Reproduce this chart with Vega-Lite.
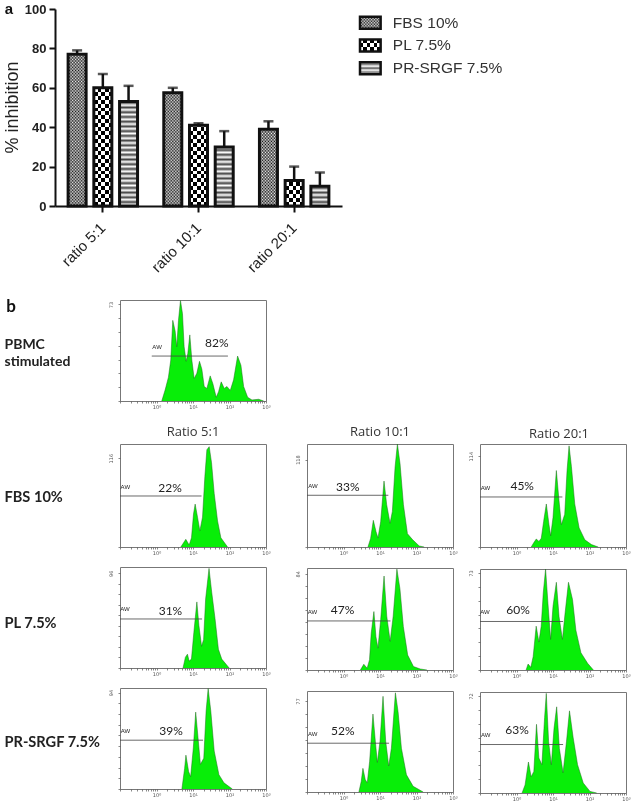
{"$schema":"https://vega.github.io/schema/vega-lite/v6.json","padding":{"left":3,"top":2,"right":0,"bottom":0},"background":"white",
"config":{"view":{"stroke":"#777","strokeWidth":1},"axis":{"domain":false,"grid":false,"labelFont":"DejaVu Sans","labelFontSize":5,"labelColor":"#555","tickColor":"#555","tickSize":2,"tickWidth":0.7,"tickCount":100,"labelPadding":1,"labelOverlap":false,"labelBound":false,"labelFlush":false},"text":{"font":"Lato","fontSize":12,"color":"#222"},"rule":{"color":"#444","strokeWidth":0.8},"area":{"color":"#08ee08","opacity":1},"title":{"font":"Open Sans","fontWeight":400,"fontSize":13,"color":"#333","offset":5}},
"datasets":{
"bars":[{"ratio":"ratio 5:1","medium":"FBS 10%","inhibition":77,"upper":79},{"ratio":"ratio 5:1","medium":"PL 7.5%","inhibition":60,"upper":67},{"ratio":"ratio 5:1","medium":"PR-SRGF 7.5%","inhibition":53,"upper":61},{"ratio":"ratio 10:1","medium":"FBS 10%","inhibition":57.5,"upper":60},{"ratio":"ratio 10:1","medium":"PL 7.5%","inhibition":41,"upper":42},{"ratio":"ratio 10:1","medium":"PR-SRGF 7.5%","inhibition":30,"upper":38},{"ratio":"ratio 20:1","medium":"FBS 10%","inhibition":39,"upper":43},{"ratio":"ratio 20:1","medium":"PL 7.5%","inhibition":13,"upper":20},{"ratio":"ratio 20:1","medium":"PR-SRGF 7.5%","inhibition":10,"upper":17}],
"gates":[{"panel":"pbmc","gate_start":-0.13,"gate_end":1.957,"gate_count":34,"pct":"82%","pct_x":1.654,"pct_y":43.6,"gate":"AW","aw_x":0.016,"aw_y":40.6},
{"panel":"fbs5","gate_start":-1,"gate_end":1.233,"gate_count":66.6,"pct":"22%","pct_x":0.373,"pct_y":77.6,"gate":"AW","aw_x":-0.854,"aw_y":79},
{"panel":"fbs10","gate_start":-1,"gate_end":1.229,"gate_count":69.8,"pct":"33%","pct_x":0.119,"pct_y":81,"gate":"AW","aw_x":-0.835,"aw_y":82},
{"panel":"fbs20","gate_start":-1,"gate_end":1.257,"gate_count":62.8,"pct":"45%","pct_x":0.156,"pct_y":76,"gate":"AW","aw_x":-0.853,"aw_y":74.6},
{"panel":"pl5","gate_start":-1,"gate_end":1.249,"gate_count":49.7,"pct":"31%","pct_x":0.382,"pct_y":58,"gate":"AW","aw_x":-0.862,"aw_y":59.5},
{"panel":"pl10","gate_start":-1,"gate_end":1.287,"gate_count":42.8,"pct":"47%","pct_x":-0.028,"pct_y":52.5,"gate":"AW","aw_x":-0.852,"aw_y":51},
{"panel":"pl20","gate_start":-1,"gate_end":1.276,"gate_count":36.5,"pct":"60%","pct_x":0.041,"pct_y":45,"gate":"AW","aw_x":-0.862,"aw_y":43.6},
{"panel":"pr5","gate_start":-1,"gate_end":1.276,"gate_count":47.6,"pct":"39%","pct_x":0.401,"pct_y":57,"gate":"AW","aw_x":-0.853,"aw_y":56.7},
{"panel":"pr10","gate_start":-1,"gate_end":1.248,"gate_count":41.3,"pct":"52%","pct_x":-0.018,"pct_y":52,"gate":"AW","aw_x":-0.844,"aw_y":49.5},
{"panel":"pr20","gate_start":-1,"gate_end":1.276,"gate_count":36,"pct":"63%","pct_x":0.014,"pct_y":47,"gate":"AW","aw_x":-0.843,"aw_y":43}],
"pbmc":[{"fl":0.144,"events":0},{"fl":0.236,"events":8.3},{"fl":0.327,"events":18},{"fl":0.391,"events":31},{"fl":0.446,"events":61},{"fl":0.51,"events":53},{"fl":0.556,"events":41},{"fl":0.602,"events":61},{"fl":0.657,"events":76},{"fl":0.712,"events":66},{"fl":0.757,"events":41},{"fl":0.812,"events":30},{"fl":0.858,"events":36},{"fl":0.913,"events":50},{"fl":0.968,"events":31},{"fl":1.032,"events":17},{"fl":1.105,"events":21},{"fl":1.178,"events":30},{"fl":1.243,"events":24},{"fl":1.307,"events":11},{"fl":1.38,"events":9.5},{"fl":1.471,"events":19},{"fl":1.545,"events":13},{"fl":1.636,"events":2.8},{"fl":1.7,"events":7},{"fl":1.773,"events":14.5},{"fl":1.856,"events":9.5},{"fl":1.929,"events":11},{"fl":2.021,"events":8},{"fl":2.112,"events":16},{"fl":2.222,"events":34},{"fl":2.313,"events":27},{"fl":2.387,"events":11},{"fl":2.497,"events":2.8},{"fl":2.616,"events":0.8},{"fl":2.799,"events":1.3},{"fl":2.936,"events":0}],
"fbs5":[{"fl":0.666,"events":0},{"fl":0.803,"events":10},{"fl":0.895,"events":2.6},{"fl":0.959,"events":12},{"fl":1.014,"events":43},{"fl":1.059,"events":56},{"fl":1.124,"events":39},{"fl":1.188,"events":21},{"fl":1.261,"events":39},{"fl":1.325,"events":92},{"fl":1.38,"events":127},{"fl":1.444,"events":131},{"fl":1.508,"events":110},{"fl":1.581,"events":70},{"fl":1.673,"events":34},{"fl":1.764,"events":12},{"fl":1.947,"events":0}],
"fbs10":[{"fl":0.67,"events":0},{"fl":0.743,"events":11.5},{"fl":0.817,"events":36},{"fl":0.89,"events":21},{"fl":0.945,"events":12},{"fl":1.018,"events":34},{"fl":1.11,"events":89},{"fl":1.183,"events":57},{"fl":1.275,"events":32},{"fl":1.339,"events":48},{"fl":1.413,"events":108},{"fl":1.477,"events":139},{"fl":1.55,"events":112},{"fl":1.642,"events":57},{"fl":1.752,"events":18},{"fl":1.89,"events":10},{"fl":2.073,"events":1.4},{"fl":2.211,"events":0}],
"fbs20":[{"fl":0.404,"events":0},{"fl":0.468,"events":5},{"fl":0.541,"events":10},{"fl":0.615,"events":7},{"fl":0.679,"events":11},{"fl":0.743,"events":32},{"fl":0.817,"events":54},{"fl":0.89,"events":28},{"fl":0.936,"events":14},{"fl":1,"events":37},{"fl":1.092,"events":96},{"fl":1.165,"events":58},{"fl":1.229,"events":28},{"fl":1.321,"events":41},{"fl":1.385,"events":96},{"fl":1.44,"events":127},{"fl":1.505,"events":101},{"fl":1.596,"events":54},{"fl":1.716,"events":24},{"fl":1.872,"events":9},{"fl":2.055,"events":3},{"fl":2.239,"events":0}],
"pl5":[{"fl":0.727,"events":0},{"fl":0.792,"events":11},{"fl":0.848,"events":14},{"fl":0.894,"events":7},{"fl":0.958,"events":9},{"fl":1.023,"events":36},{"fl":1.106,"events":67},{"fl":1.162,"events":43},{"fl":1.235,"events":22},{"fl":1.291,"events":29},{"fl":1.346,"events":70},{"fl":1.439,"events":101},{"fl":1.512,"events":77},{"fl":1.604,"events":50},{"fl":1.696,"events":19},{"fl":1.788,"events":9},{"fl":1.991,"events":0}],
"pl10":[{"fl":0.463,"events":0},{"fl":0.556,"events":5},{"fl":0.648,"events":1.5},{"fl":0.713,"events":9},{"fl":0.759,"events":32},{"fl":0.833,"events":51},{"fl":0.889,"events":29},{"fl":0.944,"events":19},{"fl":1.019,"events":44},{"fl":1.111,"events":82},{"fl":1.185,"events":47},{"fl":1.278,"events":25},{"fl":1.361,"events":47},{"fl":1.463,"events":88},{"fl":1.546,"events":71},{"fl":1.639,"events":38},{"fl":1.759,"events":13},{"fl":1.917,"events":3},{"fl":2.102,"events":0.9},{"fl":2.287,"events":0}],
"pl20":[{"fl":0.263,"events":0},{"fl":0.318,"events":4.5},{"fl":0.392,"events":2},{"fl":0.456,"events":10},{"fl":0.539,"events":33},{"fl":0.613,"events":21},{"fl":0.677,"events":33},{"fl":0.733,"events":58},{"fl":0.797,"events":76},{"fl":0.862,"events":50},{"fl":0.935,"events":23},{"fl":1,"events":48},{"fl":1.092,"events":66},{"fl":1.166,"events":40},{"fl":1.258,"events":23},{"fl":1.332,"events":43},{"fl":1.424,"events":66},{"fl":1.535,"events":53},{"fl":1.627,"events":30},{"fl":1.765,"events":13},{"fl":1.949,"events":5},{"fl":2.106,"events":0}],
"pr5":[{"fl":0.696,"events":0},{"fl":0.77,"events":20},{"fl":0.806,"events":33},{"fl":0.88,"events":17},{"fl":0.935,"events":12},{"fl":1.009,"events":40},{"fl":1.074,"events":75},{"fl":1.138,"events":50},{"fl":1.203,"events":24},{"fl":1.295,"events":30},{"fl":1.359,"events":76},{"fl":1.415,"events":98},{"fl":1.488,"events":76},{"fl":1.581,"events":37},{"fl":1.71,"events":14},{"fl":1.848,"events":6},{"fl":2.078,"events":0}],
"pr10":[{"fl":0.422,"events":0},{"fl":0.486,"events":9},{"fl":0.532,"events":20},{"fl":0.596,"events":10.5},{"fl":0.651,"events":7.7},{"fl":0.716,"events":26},{"fl":0.807,"events":66},{"fl":0.872,"events":43},{"fl":0.927,"events":25},{"fl":1,"events":43},{"fl":1.083,"events":81},{"fl":1.156,"events":43},{"fl":1.239,"events":22},{"fl":1.312,"events":37},{"fl":1.422,"events":84},{"fl":1.495,"events":68},{"fl":1.587,"events":37},{"fl":1.725,"events":14.5},{"fl":1.908,"events":4.8},{"fl":2.183,"events":0}],
"pr20":[{"fl":0.152,"events":0},{"fl":0.235,"events":6},{"fl":0.327,"events":23},{"fl":0.401,"events":12},{"fl":0.475,"events":16},{"fl":0.548,"events":51},{"fl":0.613,"events":26},{"fl":0.696,"events":21},{"fl":0.77,"events":56},{"fl":0.816,"events":74},{"fl":0.88,"events":38},{"fl":0.954,"events":21},{"fl":1.028,"events":48},{"fl":1.101,"events":64},{"fl":1.175,"events":33},{"fl":1.276,"events":15},{"fl":1.369,"events":38},{"fl":1.452,"events":61},{"fl":1.553,"events":41},{"fl":1.673,"events":21},{"fl":1.829,"events":7.4},{"fl":2.014,"events":1.2},{"fl":2.198,"events":0}]
},
"spacing":22,
"vconcat":[
{"spacing":18,"bounds":"flush","hconcat":[
{"width":222,"height":197,"view":{"stroke":null},"data":{"name":"bars"},
"encoding":{"x":{"field":"ratio","type":"nominal","sort":null,"scale":{"domain":["ratio 5:1","ratio 10:1","ratio 20:1"],"range":[-65,222],"paddingInner":0,"paddingOuter":0},"axis":{"title":null,"domain":true,"domainColor":"#111","domainWidth":2,"tickColor":"#111","tickWidth":2,"tickSize":6,"labelAngle":-45,"labelAlign":"right","labelBaseline":"middle","labelFont":"Liberation Sans","labelFontSize":15,"labelColor":"#222","labelPadding":13}},"xOffset":{"field":"medium","type":"nominal","scale":{"domain":["FBS 10%","PL 7.5%","PR-SRGF 7.5%"],"paddingInner":0.3,"paddingOuter":0.51}}},
"layer":[
{"mark":{"type":"bar","fill":"white"},"encoding":{"y":{"datum":0,"type":"quantitative","scale":{"domain":[0,100],"nice":false},"axis":{"title":"% inhibition","offset":65,"titleFont":"Liberation Sans","titleFontSize":18,"titleFontWeight":400,"titleColor":"#222","titleX":-34,"titleY":98,"values":[0,20,40,60,80,100],"tickCount":6,"labelOverlap":false,"domain":true,"domainColor":"#111","domainWidth":2,"tickColor":"#111","tickWidth":2,"tickSize":6,"labelFont":"Liberation Sans","labelFontSize":13,"labelFontWeight":700,"labelColor":"#222","labelPadding":3}},"y2":{"datum":80}}},
{"transform":[{"filter":"datum.medium=='FBS 10%'"}],"mark":{"type":"bar","blend":"difference","fill":{"gradient":"linear","x1":0,"y1":0,"x2":1,"y2":0,"stops":[{"offset":0,"color":"#fff0"},{"offset":0.083,"color":"#fff"},{"offset":0.167,"color":"#fff0"},{"offset":0.25,"color":"#fff"},{"offset":0.333,"color":"#fff0"},{"offset":0.417,"color":"#fff"},{"offset":0.5,"color":"#fff0"},{"offset":0.583,"color":"#fff"},{"offset":0.667,"color":"#fff0"},{"offset":0.75,"color":"#fff"},{"offset":0.833,"color":"#fff0"},{"offset":0.917,"color":"#fff"},{"offset":1,"color":"#fff0"}]}},"encoding":{"y":{"datum":0,"type":"quantitative"},"y2":{"datum":80}}},
{"transform":[{"filter":"datum.medium=='FBS 10%'"}],"mark":{"type":"bar","blend":"difference","fill":{"gradient":"linear","x1":0,"y1":0,"x2":0,"y2":1,"stops":[{"offset":0,"color":"#fff0"},{"offset":0.01,"color":"#fff"},{"offset":0.02,"color":"#fff0"},{"offset":0.03,"color":"#fff"},{"offset":0.04,"color":"#fff0"},{"offset":0.05,"color":"#fff"},{"offset":0.06,"color":"#fff0"},{"offset":0.07,"color":"#fff"},{"offset":0.08,"color":"#fff0"},{"offset":0.09,"color":"#fff"},{"offset":0.1,"color":"#fff0"},{"offset":0.11,"color":"#fff"},{"offset":0.12,"color":"#fff0"},{"offset":0.13,"color":"#fff"},{"offset":0.14,"color":"#fff0"},{"offset":0.15,"color":"#fff"},{"offset":0.16,"color":"#fff0"},{"offset":0.17,"color":"#fff"},{"offset":0.18,"color":"#fff0"},{"offset":0.19,"color":"#fff"},{"offset":0.2,"color":"#fff0"},{"offset":0.21,"color":"#fff"},{"offset":0.22,"color":"#fff0"},{"offset":0.23,"color":"#fff"},{"offset":0.24,"color":"#fff0"},{"offset":0.25,"color":"#fff"},{"offset":0.26,"color":"#fff0"},{"offset":0.27,"color":"#fff"},{"offset":0.28,"color":"#fff0"},{"offset":0.29,"color":"#fff"},{"offset":0.3,"color":"#fff0"},{"offset":0.31,"color":"#fff"},{"offset":0.32,"color":"#fff0"},{"offset":0.33,"color":"#fff"},{"offset":0.34,"color":"#fff0"},{"offset":0.35,"color":"#fff"},{"offset":0.36,"color":"#fff0"},{"offset":0.37,"color":"#fff"},{"offset":0.38,"color":"#fff0"},{"offset":0.39,"color":"#fff"},{"offset":0.4,"color":"#fff0"},{"offset":0.41,"color":"#fff"},{"offset":0.42,"color":"#fff0"},{"offset":0.43,"color":"#fff"},{"offset":0.44,"color":"#fff0"},{"offset":0.45,"color":"#fff"},{"offset":0.46,"color":"#fff0"},{"offset":0.47,"color":"#fff"},{"offset":0.48,"color":"#fff0"},{"offset":0.49,"color":"#fff"},{"offset":0.5,"color":"#fff0"},{"offset":0.51,"color":"#fff"},{"offset":0.52,"color":"#fff0"},{"offset":0.53,"color":"#fff"},{"offset":0.54,"color":"#fff0"},{"offset":0.55,"color":"#fff"},{"offset":0.56,"color":"#fff0"},{"offset":0.57,"color":"#fff"},{"offset":0.58,"color":"#fff0"},{"offset":0.59,"color":"#fff"},{"offset":0.6,"color":"#fff0"},{"offset":0.61,"color":"#fff"},{"offset":0.62,"color":"#fff0"},{"offset":0.63,"color":"#fff"},{"offset":0.64,"color":"#fff0"},{"offset":0.65,"color":"#fff"},{"offset":0.66,"color":"#fff0"},{"offset":0.67,"color":"#fff"},{"offset":0.68,"color":"#fff0"},{"offset":0.69,"color":"#fff"},{"offset":0.7,"color":"#fff0"},{"offset":0.71,"color":"#fff"},{"offset":0.72,"color":"#fff0"},{"offset":0.73,"color":"#fff"},{"offset":0.74,"color":"#fff0"},{"offset":0.75,"color":"#fff"},{"offset":0.76,"color":"#fff0"},{"offset":0.77,"color":"#fff"},{"offset":0.78,"color":"#fff0"},{"offset":0.79,"color":"#fff"},{"offset":0.8,"color":"#fff0"},{"offset":0.81,"color":"#fff"},{"offset":0.82,"color":"#fff0"},{"offset":0.83,"color":"#fff"},{"offset":0.84,"color":"#fff0"},{"offset":0.85,"color":"#fff"},{"offset":0.86,"color":"#fff0"},{"offset":0.87,"color":"#fff"},{"offset":0.88,"color":"#fff0"},{"offset":0.89,"color":"#fff"},{"offset":0.9,"color":"#fff0"},{"offset":0.91,"color":"#fff"},{"offset":0.92,"color":"#fff0"},{"offset":0.93,"color":"#fff"},{"offset":0.94,"color":"#fff0"},{"offset":0.95,"color":"#fff"},{"offset":0.96,"color":"#fff0"},{"offset":0.97,"color":"#fff"},{"offset":0.98,"color":"#fff0"},{"offset":0.99,"color":"#fff"},{"offset":1,"color":"#fff0"}]}},"encoding":{"y":{"datum":0,"type":"quantitative"},"y2":{"datum":80}}},
{"transform":[{"filter":"datum.medium=='PL 7.5%'"}],"mark":{"type":"bar","blend":"difference","fill":{"gradient":"linear","x1":0,"y1":0,"x2":1,"y2":0,"stops":[{"offset":0,"color":"#fff"},{"offset":0.208,"color":"#fff"},{"offset":0.208,"color":"#fff0"},{"offset":0.417,"color":"#fff0"},{"offset":0.417,"color":"#fff"},{"offset":0.625,"color":"#fff"},{"offset":0.625,"color":"#fff0"},{"offset":0.833,"color":"#fff0"},{"offset":0.833,"color":"#fff"},{"offset":1,"color":"#fff"}]}},"encoding":{"y":{"datum":0,"type":"quantitative"},"y2":{"datum":80}}},
{"transform":[{"filter":"datum.medium=='PL 7.5%'"}],"mark":{"type":"bar","blend":"difference","fill":{"gradient":"linear","x1":0,"y1":0,"x2":0,"y2":1,"stops":[{"offset":0,"color":"#fff"},{"offset":0.025,"color":"#fff"},{"offset":0.025,"color":"#fff0"},{"offset":0.05,"color":"#fff0"},{"offset":0.05,"color":"#fff"},{"offset":0.075,"color":"#fff"},{"offset":0.075,"color":"#fff0"},{"offset":0.1,"color":"#fff0"},{"offset":0.1,"color":"#fff"},{"offset":0.125,"color":"#fff"},{"offset":0.125,"color":"#fff0"},{"offset":0.15,"color":"#fff0"},{"offset":0.15,"color":"#fff"},{"offset":0.175,"color":"#fff"},{"offset":0.175,"color":"#fff0"},{"offset":0.2,"color":"#fff0"},{"offset":0.2,"color":"#fff"},{"offset":0.225,"color":"#fff"},{"offset":0.225,"color":"#fff0"},{"offset":0.25,"color":"#fff0"},{"offset":0.25,"color":"#fff"},{"offset":0.275,"color":"#fff"},{"offset":0.275,"color":"#fff0"},{"offset":0.3,"color":"#fff0"},{"offset":0.3,"color":"#fff"},{"offset":0.325,"color":"#fff"},{"offset":0.325,"color":"#fff0"},{"offset":0.35,"color":"#fff0"},{"offset":0.35,"color":"#fff"},{"offset":0.375,"color":"#fff"},{"offset":0.375,"color":"#fff0"},{"offset":0.4,"color":"#fff0"},{"offset":0.4,"color":"#fff"},{"offset":0.425,"color":"#fff"},{"offset":0.425,"color":"#fff0"},{"offset":0.45,"color":"#fff0"},{"offset":0.45,"color":"#fff"},{"offset":0.475,"color":"#fff"},{"offset":0.475,"color":"#fff0"},{"offset":0.5,"color":"#fff0"},{"offset":0.5,"color":"#fff"},{"offset":0.525,"color":"#fff"},{"offset":0.525,"color":"#fff0"},{"offset":0.55,"color":"#fff0"},{"offset":0.55,"color":"#fff"},{"offset":0.575,"color":"#fff"},{"offset":0.575,"color":"#fff0"},{"offset":0.6,"color":"#fff0"},{"offset":0.6,"color":"#fff"},{"offset":0.625,"color":"#fff"},{"offset":0.625,"color":"#fff0"},{"offset":0.65,"color":"#fff0"},{"offset":0.65,"color":"#fff"},{"offset":0.675,"color":"#fff"},{"offset":0.675,"color":"#fff0"},{"offset":0.7,"color":"#fff0"},{"offset":0.7,"color":"#fff"},{"offset":0.725,"color":"#fff"},{"offset":0.725,"color":"#fff0"},{"offset":0.75,"color":"#fff0"},{"offset":0.75,"color":"#fff"},{"offset":0.775,"color":"#fff"},{"offset":0.775,"color":"#fff0"},{"offset":0.8,"color":"#fff0"},{"offset":0.8,"color":"#fff"},{"offset":0.825,"color":"#fff"},{"offset":0.825,"color":"#fff0"},{"offset":0.85,"color":"#fff0"},{"offset":0.85,"color":"#fff"},{"offset":0.875,"color":"#fff"},{"offset":0.875,"color":"#fff0"},{"offset":0.9,"color":"#fff0"},{"offset":0.9,"color":"#fff"},{"offset":0.925,"color":"#fff"},{"offset":0.925,"color":"#fff0"},{"offset":0.95,"color":"#fff0"},{"offset":0.95,"color":"#fff"},{"offset":0.975,"color":"#fff"},{"offset":0.975,"color":"#fff0"},{"offset":1,"color":"#fff0"}]}},"encoding":{"y":{"datum":0,"type":"quantitative"},"y2":{"datum":80}}},
{"transform":[{"filter":"datum.medium=='PR-SRGF 7.5%'"}],"mark":{"type":"bar","fill":{"gradient":"linear","x1":0,"y1":0,"x2":0,"y2":1,"stops":[{"offset":0,"color":"#fff"},{"offset":0.015,"color":"#444"},{"offset":0.03,"color":"#fff"},{"offset":0.045,"color":"#444"},{"offset":0.06,"color":"#fff"},{"offset":0.075,"color":"#444"},{"offset":0.09,"color":"#fff"},{"offset":0.105,"color":"#444"},{"offset":0.12,"color":"#fff"},{"offset":0.135,"color":"#444"},{"offset":0.15,"color":"#fff"},{"offset":0.165,"color":"#444"},{"offset":0.18,"color":"#fff"},{"offset":0.195,"color":"#444"},{"offset":0.21,"color":"#fff"},{"offset":0.225,"color":"#444"},{"offset":0.24,"color":"#fff"},{"offset":0.255,"color":"#444"},{"offset":0.27,"color":"#fff"},{"offset":0.285,"color":"#444"},{"offset":0.3,"color":"#fff"},{"offset":0.315,"color":"#444"},{"offset":0.33,"color":"#fff"},{"offset":0.345,"color":"#444"},{"offset":0.36,"color":"#fff"},{"offset":0.375,"color":"#444"},{"offset":0.39,"color":"#fff"},{"offset":0.405,"color":"#444"},{"offset":0.42,"color":"#fff"},{"offset":0.435,"color":"#444"},{"offset":0.45,"color":"#fff"},{"offset":0.465,"color":"#444"},{"offset":0.48,"color":"#fff"},{"offset":0.495,"color":"#444"},{"offset":0.51,"color":"#fff"},{"offset":0.525,"color":"#444"},{"offset":0.54,"color":"#fff"},{"offset":0.555,"color":"#444"},{"offset":0.57,"color":"#fff"},{"offset":0.585,"color":"#444"},{"offset":0.6,"color":"#fff"},{"offset":0.615,"color":"#444"},{"offset":0.63,"color":"#fff"},{"offset":0.645,"color":"#444"},{"offset":0.66,"color":"#fff"},{"offset":0.675,"color":"#444"},{"offset":0.69,"color":"#fff"},{"offset":0.705,"color":"#444"},{"offset":0.72,"color":"#fff"},{"offset":0.735,"color":"#444"},{"offset":0.75,"color":"#fff"},{"offset":0.765,"color":"#444"},{"offset":0.78,"color":"#fff"},{"offset":0.795,"color":"#444"},{"offset":0.81,"color":"#fff"},{"offset":0.825,"color":"#444"},{"offset":0.84,"color":"#fff"},{"offset":0.855,"color":"#444"},{"offset":0.87,"color":"#fff"},{"offset":0.885,"color":"#444"},{"offset":0.9,"color":"#fff"},{"offset":0.915,"color":"#444"},{"offset":0.93,"color":"#fff"},{"offset":0.945,"color":"#444"},{"offset":0.96,"color":"#fff"},{"offset":0.975,"color":"#444"},{"offset":0.99,"color":"#fff"}]}},"encoding":{"y":{"datum":0,"type":"quantitative"},"y2":{"datum":80}}},
{"mark":{"type":"bar","fill":"white","stroke":"white","strokeWidth":2},"encoding":{"y":{"field":"inhibition","type":"quantitative"},"y2":{"datum":80}}},
{"mark":{"type":"bar","fill":null,"fillOpacity":0,"stroke":"#111","strokeWidth":3},"encoding":{"y":{"field":"inhibition","type":"quantitative"},"y2":{"datum":0}}},
{"mark":{"type":"rule","color":"#111","strokeWidth":2.5},"encoding":{"y":{"field":"inhibition","type":"quantitative"},"y2":{"field":"upper"}}},
{"mark":{"type":"tick","color":"#111","thickness":2.5,"size":10,"orient":"horizontal"},"encoding":{"y":{"field":"upper","type":"quantitative"}}},
{"transform":[{"filter":"datum.ratio=='ratio 5:1'&&datum.medium=='PL 7.5%'"}],"mark":{"type":"text","dx":-94,"font":"Liberation Sans","fontWeight":700,"fontSize":15,"color":"#111"},"encoding":{"y":{"datum":100,"type":"quantitative"},"text":{"value":"a"}}}
]},
{"width":150,"height":72,"view":{"stroke":null},"data":{"name":"bars"},"transform":[{"filter":"datum.ratio=='ratio 5:1'"}],
"encoding":{"y":{"field":"medium","type":"nominal","scale":{"domain":["FBS 10%","PL 7.5%","PR-SRGF 7.5%"],"range":[2.4,70.5],"paddingInner":0.47,"paddingOuter":0.235},"axis":null}},
"layer":[
{"mark":{"type":"rect","fill":"white"},"encoding":{"x":{"datum":0,"type":"quantitative","scale":{"domain":[0,150]},"axis":null},"x2":{"datum":22}}},
{"transform":[{"filter":"datum.medium=='FBS 10%'"}],"mark":{"type":"rect","blend":"difference","fill":{"gradient":"linear","x1":0,"y1":0,"x2":1,"y2":0,"stops":[{"offset":0,"color":"#fff0"},{"offset":0.07,"color":"#fff"},{"offset":0.14,"color":"#fff0"},{"offset":0.21,"color":"#fff"},{"offset":0.28,"color":"#fff0"},{"offset":0.35,"color":"#fff"},{"offset":0.42,"color":"#fff0"},{"offset":0.49,"color":"#fff"},{"offset":0.56,"color":"#fff0"},{"offset":0.63,"color":"#fff"},{"offset":0.7,"color":"#fff0"},{"offset":0.77,"color":"#fff"},{"offset":0.84,"color":"#fff0"},{"offset":0.91,"color":"#fff"},{"offset":0.98,"color":"#fff0"}]}},"encoding":{"x":{"datum":0,"type":"quantitative"},"x2":{"datum":22}}},
{"transform":[{"filter":"datum.medium=='FBS 10%'"}],"mark":{"type":"rect","blend":"difference","fill":{"gradient":"linear","x1":0,"y1":0,"x2":0,"y2":1,"stops":[{"offset":0,"color":"#fff0"},{"offset":0.125,"color":"#fff"},{"offset":0.25,"color":"#fff0"},{"offset":0.375,"color":"#fff"},{"offset":0.5,"color":"#fff0"},{"offset":0.625,"color":"#fff"},{"offset":0.75,"color":"#fff0"},{"offset":0.875,"color":"#fff"},{"offset":1,"color":"#fff0"}]}},"encoding":{"x":{"datum":0,"type":"quantitative"},"x2":{"datum":22}}},
{"transform":[{"filter":"datum.medium=='PL 7.5%'"}],"mark":{"type":"rect","blend":"difference","fill":{"gradient":"linear","x1":0,"y1":0,"x2":1,"y2":0,"stops":[{"offset":0,"color":"#fff"},{"offset":0.167,"color":"#fff"},{"offset":0.167,"color":"#fff0"},{"offset":0.333,"color":"#fff0"},{"offset":0.333,"color":"#fff"},{"offset":0.5,"color":"#fff"},{"offset":0.5,"color":"#fff0"},{"offset":0.667,"color":"#fff0"},{"offset":0.667,"color":"#fff"},{"offset":0.833,"color":"#fff"},{"offset":0.833,"color":"#fff0"},{"offset":1,"color":"#fff0"}]}},"encoding":{"x":{"datum":0,"type":"quantitative"},"x2":{"datum":22}}},
{"transform":[{"filter":"datum.medium=='PL 7.5%'"}],"mark":{"type":"rect","blend":"difference","fill":{"gradient":"linear","x1":0,"y1":0,"x2":0,"y2":1,"stops":[{"offset":0,"color":"#fff"},{"offset":0.33,"color":"#fff"},{"offset":0.33,"color":"#fff0"},{"offset":0.67,"color":"#fff0"},{"offset":0.67,"color":"#fff"},{"offset":1,"color":"#fff"}]}},"encoding":{"x":{"datum":0,"type":"quantitative"},"x2":{"datum":22}}},
{"transform":[{"filter":"datum.medium=='PR-SRGF 7.5%'"}],"mark":{"type":"rect","fill":{"gradient":"linear","x1":0,"y1":0,"x2":0,"y2":1,"stops":[{"offset":0,"color":"#fff"},{"offset":0.17,"color":"#777"},{"offset":0.34,"color":"#fff"},{"offset":0.5,"color":"#555"},{"offset":0.66,"color":"#fff"},{"offset":0.83,"color":"#777"},{"offset":1,"color":"#fff"}]}},"encoding":{"x":{"datum":0,"type":"quantitative"},"x2":{"datum":22}}},
{"mark":{"type":"rect","fillOpacity":0,"stroke":"#111","strokeWidth":2.5},"encoding":{"x":{"datum":0,"type":"quantitative"},"x2":{"datum":22}}},
{"mark":{"type":"text","font":"Liberation Sans","fontSize":15.5,"align":"left","color":"#333"},"encoding":{"x":{"datum":35,"type":"quantitative"},"text":{"field":"medium"}}}
]}
]},
{"spacing":15,"vconcat":[
{"width":146,"height":101,"layer":[{"data":{"name":"pbmc"},"mark":{"type":"area","opacity":1,"line":{"color":"#1f6a1f","strokeWidth":0.5}},"encoding":{"x":{"field":"fl","type":"quantitative","scale":{"domain":[-1,3],"nice":false,"zero":false},"axis":{"title":null,"values":[-1,-0.699,-0.523,-0.398,-0.301,-0.222,-0.155,-0.097,-0.046,0,0.301,0.477,0.602,0.699,0.778,0.845,0.903,0.954,1,1.301,1.477,1.602,1.699,1.778,1.845,1.903,1.954,2,2.301,2.477,2.602,2.699,2.778,2.845,2.903,2.954,3],"labelExpr":"datum.value==0?'10⁰':datum.value==1?'10¹':datum.value==2?'10²':datum.value==3?'10³':''"}},"y":{"field":"events","type":"quantitative","scale":{"domain":[0,76.4],"nice":false},"axis":{"title":["PBMC","stimulated"],"titleAngle":0,"titleAlign":"left","titleBaseline":"middle","titleX":-116,"titleY":44,"titleFont":"Lato","titleFontSize":14,"titleFontWeight":700,"titleColor":"#222","titleLineHeight":17,"values":[0,10.4,20.9,31.3,41.7,52.1,62.6,73],"labelAngle":270,"labelAlign":"center","labelBaseline":"bottom","labelPadding":5,"labelExpr":"datum.value==73?'73':''"}}}},
{"data":{"name":"gates"},"transform":[{"filter":"datum.panel=='pbmc'"}],"layer":[{"mark":"rule","encoding":{"x":{"field":"gate_start","type":"quantitative"},"x2":{"field":"gate_end"},"y":{"field":"gate_count","type":"quantitative"}}},{"mark":"text","encoding":{"x":{"field":"pct_x","type":"quantitative"},"y":{"field":"pct_y","type":"quantitative"},"text":{"field":"pct"}}},{"mark":{"type":"text","fontSize":6,"font":"Liberation Sans"},"encoding":{"x":{"field":"aw_x","type":"quantitative"},"y":{"field":"aw_y","type":"quantitative"},"text":{"field":"gate"}}},{"mark":{"type":"text","dx":-109,"dy":7,"font":"Lato","fontWeight":700,"fontSize":17,"color":"#111"},"encoding":{"x":{"datum":-1,"type":"quantitative"},"y":{"datum":76.4,"type":"quantitative"},"text":{"value":"b"}}}]}]},
{"spacing":9,"hconcat":[
{"spacing":23,"hconcat":[
{"spacing":20,"bounds":"flush","vconcat":[
{"width":146,"height":103,"title":{"text":"Ratio 5:1"},"layer":[{"data":{"name":"fbs5"},"mark":{"type":"area","opacity":1,"line":{"color":"#1f6a1f","strokeWidth":0.5}},"encoding":{"x":{"field":"fl","type":"quantitative","scale":{"domain":[-1,3],"nice":false,"zero":false},"axis":{"title":null,"values":[-1,-0.699,-0.523,-0.398,-0.301,-0.222,-0.155,-0.097,-0.046,0,0.301,0.477,0.602,0.699,0.778,0.845,0.903,0.954,1,1.301,1.477,1.602,1.699,1.778,1.845,1.903,1.954,2,2.301,2.477,2.602,2.699,2.778,2.845,2.903,2.954,3],"labelExpr":"datum.value==0?'10⁰':datum.value==1?'10¹':datum.value==2?'10²':datum.value==3?'10³':''"}},"y":{"field":"events","type":"quantitative","scale":{"domain":[0,134.5],"nice":false},"axis":{"title":"FBS 10%","titleAngle":0,"titleAlign":"left","titleBaseline":"middle","titleX":-116,"titleY":53,"titleFont":"Lato","titleFontSize":14.6,"titleFontWeight":700,"titleColor":"#222","values":[0,116],"labelAngle":270,"labelAlign":"center","labelBaseline":"bottom","labelPadding":5,"labelExpr":"datum.value==116?'116':''"}}}},
{"data":{"name":"gates"},"transform":[{"filter":"datum.panel=='fbs5'"}],"layer":[{"mark":"rule","encoding":{"x":{"field":"gate_start","type":"quantitative"},"x2":{"field":"gate_end"},"y":{"field":"gate_count","type":"quantitative"}}},{"mark":"text","encoding":{"x":{"field":"pct_x","type":"quantitative"},"y":{"field":"pct_y","type":"quantitative"},"text":{"field":"pct"}}},{"mark":{"type":"text","fontSize":6,"font":"Liberation Sans"},"encoding":{"x":{"field":"aw_x","type":"quantitative"},"y":{"field":"aw_y","type":"quantitative"},"text":{"field":"gate"}}}]}]},
{"width":146,"height":101,"layer":[{"data":{"name":"pl5"},"mark":{"type":"area","opacity":1,"line":{"color":"#1f6a1f","strokeWidth":0.5}},"encoding":{"x":{"field":"fl","type":"quantitative","scale":{"domain":[-1,3],"nice":false,"zero":false},"axis":{"title":null,"values":[-1,-0.699,-0.523,-0.398,-0.301,-0.222,-0.155,-0.097,-0.046,0,0.301,0.477,0.602,0.699,0.778,0.845,0.903,0.954,1,1.301,1.477,1.602,1.699,1.778,1.845,1.903,1.954,2,2.301,2.477,2.602,2.699,2.778,2.845,2.903,2.954,3],"labelExpr":"datum.value==0?'10⁰':datum.value==1?'10¹':datum.value==2?'10²':datum.value==3?'10³':''"}},"y":{"field":"events","type":"quantitative","scale":{"domain":[0,102.4],"nice":false},"axis":{"title":"PL 7.5%","titleAngle":0,"titleAlign":"left","titleBaseline":"middle","titleX":-116,"titleY":56,"titleFont":"Lato","titleFontSize":14.6,"titleFontWeight":700,"titleColor":"#222","values":[0,10.7,21.3,32,42.7,53.3,64,74.7,85.3,96],"labelAngle":270,"labelAlign":"center","labelBaseline":"bottom","labelPadding":5,"labelExpr":"datum.value==96?'96':''"}}}},
{"data":{"name":"gates"},"transform":[{"filter":"datum.panel=='pl5'"}],"layer":[{"mark":"rule","encoding":{"x":{"field":"gate_start","type":"quantitative"},"x2":{"field":"gate_end"},"y":{"field":"gate_count","type":"quantitative"}}},{"mark":"text","encoding":{"x":{"field":"pct_x","type":"quantitative"},"y":{"field":"pct_y","type":"quantitative"},"text":{"field":"pct"}}},{"mark":{"type":"text","fontSize":6,"font":"Liberation Sans"},"encoding":{"x":{"field":"aw_x","type":"quantitative"},"y":{"field":"aw_y","type":"quantitative"},"text":{"field":"gate"}}}]}]},
{"width":146,"height":101,"layer":[{"data":{"name":"pr5"},"mark":{"type":"area","opacity":1,"line":{"color":"#1f6a1f","strokeWidth":0.5}},"encoding":{"x":{"field":"fl","type":"quantitative","scale":{"domain":[-1,3],"nice":false,"zero":false},"axis":{"title":null,"values":[-1,-0.699,-0.523,-0.398,-0.301,-0.222,-0.155,-0.097,-0.046,0,0.301,0.477,0.602,0.699,0.778,0.845,0.903,0.954,1,1.301,1.477,1.602,1.699,1.778,1.845,1.903,1.954,2,2.301,2.477,2.602,2.699,2.778,2.845,2.903,2.954,3],"labelExpr":"datum.value==0?'10⁰':datum.value==1?'10¹':datum.value==2?'10²':datum.value==3?'10³':''"}},"y":{"field":"events","type":"quantitative","scale":{"domain":[0,98.5],"nice":false},"axis":{"title":"PR-SRGF 7.5%","titleAngle":0,"titleAlign":"left","titleBaseline":"middle","titleX":-116,"titleY":54,"titleFont":"Lato","titleFontSize":14.6,"titleFontWeight":700,"titleColor":"#222","values":[0,10.4,20.9,31.3,41.8,52.2,62.7,73.1,83.6,94],"labelAngle":270,"labelAlign":"center","labelBaseline":"bottom","labelPadding":5,"labelExpr":"datum.value==94?'94':''"}}}},
{"data":{"name":"gates"},"transform":[{"filter":"datum.panel=='pr5'"}],"layer":[{"mark":"rule","encoding":{"x":{"field":"gate_start","type":"quantitative"},"x2":{"field":"gate_end"},"y":{"field":"gate_count","type":"quantitative"}}},{"mark":"text","encoding":{"x":{"field":"pct_x","type":"quantitative"},"y":{"field":"pct_y","type":"quantitative"},"text":{"field":"pct"}}},{"mark":{"type":"text","fontSize":6,"font":"Liberation Sans"},"encoding":{"x":{"field":"aw_x","type":"quantitative"},"y":{"field":"aw_y","type":"quantitative"},"text":{"field":"gate"}}}]}]}
]},
{"spacing":21,"bounds":"flush","vconcat":[
{"width":146,"height":103,"title":{"text":"Ratio 10:1","offset":4},"layer":[{"data":{"name":"fbs10"},"mark":{"type":"area","opacity":1,"line":{"color":"#1f6a1f","strokeWidth":0.5}},"encoding":{"x":{"field":"fl","type":"quantitative","scale":{"domain":[-1,3],"nice":false,"zero":false},"axis":{"title":null,"values":[-1,-0.699,-0.523,-0.398,-0.301,-0.222,-0.155,-0.097,-0.046,0,0.301,0.477,0.602,0.699,0.778,0.845,0.903,0.954,1,1.301,1.477,1.602,1.699,1.778,1.845,1.903,1.954,2,2.301,2.477,2.602,2.699,2.778,2.845,2.903,2.954,3],"labelExpr":"datum.value==0?'10⁰':datum.value==1?'10¹':datum.value==2?'10²':datum.value==3?'10³':''"}},"y":{"field":"events","type":"quantitative","scale":{"domain":[0,139],"nice":false},"axis":{"title":null,"values":[0,118],"labelAngle":270,"labelAlign":"center","labelBaseline":"bottom","labelPadding":5,"labelExpr":"datum.value==118?'118':''"}}}},
{"data":{"name":"gates"},"transform":[{"filter":"datum.panel=='fbs10'"}],"layer":[{"mark":"rule","encoding":{"x":{"field":"gate_start","type":"quantitative"},"x2":{"field":"gate_end"},"y":{"field":"gate_count","type":"quantitative"}}},{"mark":"text","encoding":{"x":{"field":"pct_x","type":"quantitative"},"y":{"field":"pct_y","type":"quantitative"},"text":{"field":"pct"}}},{"mark":{"type":"text","fontSize":6,"font":"Liberation Sans"},"encoding":{"x":{"field":"aw_x","type":"quantitative"},"y":{"field":"aw_y","type":"quantitative"},"text":{"field":"gate"}}}]}]},
{"width":146,"height":102,"layer":[{"data":{"name":"pl10"},"mark":{"type":"area","opacity":1,"line":{"color":"#1f6a1f","strokeWidth":0.5}},"encoding":{"x":{"field":"fl","type":"quantitative","scale":{"domain":[-1,3],"nice":false,"zero":false},"axis":{"title":null,"values":[-1,-0.699,-0.523,-0.398,-0.301,-0.222,-0.155,-0.097,-0.046,0,0.301,0.477,0.602,0.699,0.778,0.845,0.903,0.954,1,1.301,1.477,1.602,1.699,1.778,1.845,1.903,1.954,2,2.301,2.477,2.602,2.699,2.778,2.845,2.903,2.954,3],"labelExpr":"datum.value==0?'10⁰':datum.value==1?'10¹':datum.value==2?'10²':datum.value==3?'10³':''"}},"y":{"field":"events","type":"quantitative","scale":{"domain":[0,89],"nice":false},"axis":{"title":null,"values":[0,10.5,21,31.5,42,52.5,63,73.5,84],"labelAngle":270,"labelAlign":"center","labelBaseline":"bottom","labelPadding":5,"labelExpr":"datum.value==84?'84':''"}}}},
{"data":{"name":"gates"},"transform":[{"filter":"datum.panel=='pl10'"}],"layer":[{"mark":"rule","encoding":{"x":{"field":"gate_start","type":"quantitative"},"x2":{"field":"gate_end"},"y":{"field":"gate_count","type":"quantitative"}}},{"mark":"text","encoding":{"x":{"field":"pct_x","type":"quantitative"},"y":{"field":"pct_y","type":"quantitative"},"text":{"field":"pct"}}},{"mark":{"type":"text","fontSize":6,"font":"Liberation Sans"},"encoding":{"x":{"field":"aw_x","type":"quantitative"},"y":{"field":"aw_y","type":"quantitative"},"text":{"field":"gate"}}}]}]},
{"width":146,"height":101,"layer":[{"data":{"name":"pr10"},"mark":{"type":"area","opacity":1,"line":{"color":"#1f6a1f","strokeWidth":0.5}},"encoding":{"x":{"field":"fl","type":"quantitative","scale":{"domain":[-1,3],"nice":false,"zero":false},"axis":{"title":null,"values":[-1,-0.699,-0.523,-0.398,-0.301,-0.222,-0.155,-0.097,-0.046,0,0.301,0.477,0.602,0.699,0.778,0.845,0.903,0.954,1,1.301,1.477,1.602,1.699,1.778,1.845,1.903,1.954,2,2.301,2.477,2.602,2.699,2.778,2.845,2.903,2.954,3],"labelExpr":"datum.value==0?'10⁰':datum.value==1?'10¹':datum.value==2?'10²':datum.value==3?'10³':''"}},"y":{"field":"events","type":"quantitative","scale":{"domain":[0,85.5],"nice":false},"axis":{"title":null,"values":[0,11,22,33,44,55,66,77],"labelAngle":270,"labelAlign":"center","labelBaseline":"bottom","labelPadding":5,"labelExpr":"datum.value==77?'77':''"}}}},
{"data":{"name":"gates"},"transform":[{"filter":"datum.panel=='pr10'"}],"layer":[{"mark":"rule","encoding":{"x":{"field":"gate_start","type":"quantitative"},"x2":{"field":"gate_end"},"y":{"field":"gate_count","type":"quantitative"}}},{"mark":"text","encoding":{"x":{"field":"pct_x","type":"quantitative"},"y":{"field":"pct_y","type":"quantitative"},"text":{"field":"pct"}}},{"mark":{"type":"text","fontSize":6,"font":"Liberation Sans"},"encoding":{"x":{"field":"aw_x","type":"quantitative"},"y":{"field":"aw_y","type":"quantitative"},"text":{"field":"gate"}}}]}]}
]}
]},
{"spacing":22,"bounds":"flush","vconcat":[
{"width":146,"height":103,"title":{"text":"Ratio 20:1","dx":6,"offset":3},"layer":[{"data":{"name":"fbs20"},"mark":{"type":"area","opacity":1,"line":{"color":"#1f6a1f","strokeWidth":0.5}},"encoding":{"x":{"field":"fl","type":"quantitative","scale":{"domain":[-1,3],"nice":false,"zero":false},"axis":{"title":null,"values":[-1,-0.699,-0.523,-0.398,-0.301,-0.222,-0.155,-0.097,-0.046,0,0.301,0.477,0.602,0.699,0.778,0.845,0.903,0.954,1,1.301,1.477,1.602,1.699,1.778,1.845,1.903,1.954,2,2.301,2.477,2.602,2.699,2.778,2.845,2.903,2.954,3],"labelExpr":"datum.value==0?'10⁰':datum.value==1?'10¹':datum.value==2?'10²':datum.value==3?'10³':''"}},"y":{"field":"events","type":"quantitative","scale":{"domain":[0,129.3],"nice":false},"axis":{"title":null,"values":[0,114],"labelAngle":270,"labelAlign":"center","labelBaseline":"bottom","labelPadding":5,"labelExpr":"datum.value==114?'114':''"}}}},
{"data":{"name":"gates"},"transform":[{"filter":"datum.panel=='fbs20'"}],"layer":[{"mark":"rule","encoding":{"x":{"field":"gate_start","type":"quantitative"},"x2":{"field":"gate_end"},"y":{"field":"gate_count","type":"quantitative"}}},{"mark":"text","encoding":{"x":{"field":"pct_x","type":"quantitative"},"y":{"field":"pct_y","type":"quantitative"},"text":{"field":"pct"}}},{"mark":{"type":"text","fontSize":6,"font":"Liberation Sans"},"encoding":{"x":{"field":"aw_x","type":"quantitative"},"y":{"field":"aw_y","type":"quantitative"},"text":{"field":"gate"}}}]}]},
{"width":146,"height":101,"layer":[{"data":{"name":"pl20"},"mark":{"type":"area","opacity":1,"line":{"color":"#1f6a1f","strokeWidth":0.5}},"encoding":{"x":{"field":"fl","type":"quantitative","scale":{"domain":[-1,3],"nice":false,"zero":false},"axis":{"title":null,"values":[-1,-0.699,-0.523,-0.398,-0.301,-0.222,-0.155,-0.097,-0.046,0,0.301,0.477,0.602,0.699,0.778,0.845,0.903,0.954,1,1.301,1.477,1.602,1.699,1.778,1.845,1.903,1.954,2,2.301,2.477,2.602,2.699,2.778,2.845,2.903,2.954,3],"labelExpr":"datum.value==0?'10⁰':datum.value==1?'10¹':datum.value==2?'10²':datum.value==3?'10³':''"}},"y":{"field":"events","type":"quantitative","scale":{"domain":[0,76],"nice":false},"axis":{"title":null,"values":[0,10.4,20.9,31.3,41.7,52.1,62.6,73],"labelAngle":270,"labelAlign":"center","labelBaseline":"bottom","labelPadding":5,"labelExpr":"datum.value==73?'73':''"}}}},
{"data":{"name":"gates"},"transform":[{"filter":"datum.panel=='pl20'"}],"layer":[{"mark":"rule","encoding":{"x":{"field":"gate_start","type":"quantitative"},"x2":{"field":"gate_end"},"y":{"field":"gate_count","type":"quantitative"}}},{"mark":"text","encoding":{"x":{"field":"pct_x","type":"quantitative"},"y":{"field":"pct_y","type":"quantitative"},"text":{"field":"pct"}}},{"mark":{"type":"text","fontSize":6,"font":"Liberation Sans"},"encoding":{"x":{"field":"aw_x","type":"quantitative"},"y":{"field":"aw_y","type":"quantitative"},"text":{"field":"gate"}}}]}]},
{"width":146,"height":101,"layer":[{"data":{"name":"pr20"},"mark":{"type":"area","opacity":1,"line":{"color":"#1f6a1f","strokeWidth":0.5}},"encoding":{"x":{"field":"fl","type":"quantitative","scale":{"domain":[-1,3],"nice":false,"zero":false},"axis":{"title":null,"values":[-1,-0.699,-0.523,-0.398,-0.301,-0.222,-0.155,-0.097,-0.046,0,0.301,0.477,0.602,0.699,0.778,0.845,0.903,0.954,1,1.301,1.477,1.602,1.699,1.778,1.845,1.903,1.954,2,2.301,2.477,2.602,2.699,2.778,2.845,2.903,2.954,3],"labelExpr":"datum.value==0?'10⁰':datum.value==1?'10¹':datum.value==2?'10²':datum.value==3?'10³':''"}},"y":{"field":"events","type":"quantitative","scale":{"domain":[0,75],"nice":false},"axis":{"title":null,"values":[0,10.3,20.6,30.9,41.1,51.4,61.7,72],"labelAngle":270,"labelAlign":"center","labelBaseline":"bottom","labelPadding":5,"labelExpr":"datum.value==72?'72':''"}}}},
{"data":{"name":"gates"},"transform":[{"filter":"datum.panel=='pr20'"}],"layer":[{"mark":"rule","encoding":{"x":{"field":"gate_start","type":"quantitative"},"x2":{"field":"gate_end"},"y":{"field":"gate_count","type":"quantitative"}}},{"mark":"text","encoding":{"x":{"field":"pct_x","type":"quantitative"},"y":{"field":"pct_y","type":"quantitative"},"text":{"field":"pct"}}},{"mark":{"type":"text","fontSize":6,"font":"Liberation Sans"},"encoding":{"x":{"field":"aw_x","type":"quantitative"},"y":{"field":"aw_y","type":"quantitative"},"text":{"field":"gate"}}}]}]}
]}
]}
]}
]}
